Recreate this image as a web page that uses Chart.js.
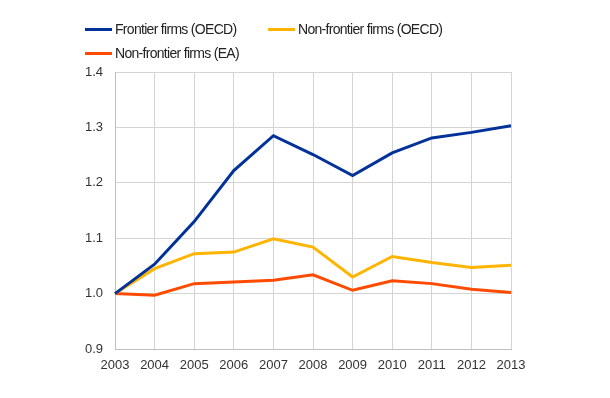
<!DOCTYPE html>
<html>
<head>
<meta charset="utf-8">
<script src="https://cdn.jsdelivr.net/npm/chart.js@4/dist/chart.umd.min.js"></script>
<style>
  body { margin: 0; background: #fff; }
  #wrap { position: relative; width: 610px; height: 398px; }
  #legend { position: absolute; left: 85px; top: 21px; width: 480px;
    font-family: "Liberation Sans", Arial, sans-serif; font-size: 14px; letter-spacing: -0.7px; color: #222; }
  .item { position: absolute; display: flex; align-items: center; white-space: nowrap; }
  .swatch { width: 27px; height: 3px; margin-right: 3px; }
</style>
</head>
<body>
<div id="wrap">
  <canvas id="myChart" width="610" height="398"></canvas>
  <div id="legend"></div>
</div>
<script>
var years = ["2003", "2004", "2005", "2006", "2007", "2008", "2009", "2010", "2011", "2012", "2013"];
var frontierOECD = [1.0, 1.053, 1.130, 1.222, 1.285, 1.251, 1.213, 1.254, 1.281, 1.291, 1.303];
var nonFrontierOECD = [1.0, 1.045, 1.072, 1.075, 1.099, 1.084, 1.030, 1.067, 1.056, 1.047, 1.051];
var nonFrontierEA = [1.0, 0.997, 1.018, 1.021, 1.024, 1.034, 1.006, 1.023, 1.018, 1.008, 1.002];
var seriesNames = ["Frontier firms (OECD)", "Non-frontier firms (OECD)", "Non-frontier firms (EA)"];
var seriesColors = ["#003299", "#ffb400", "#ff4b00"];

var allSeries = [frontierOECD, nonFrontierOECD, nonFrontierEA];
var datasets = allSeries.map(function (d, i) {
  return {
    label: seriesNames[i],
    data: d,
    borderColor: seriesColors[i],
    backgroundColor: seriesColors[i],
    borderWidth: 3,
    pointRadius: 0,
    tension: 0,
    order: i === 0 ? 0 : 1
  };
});

new Chart("myChart", {
  type: "line",
  data: { labels: years, datasets: datasets },
  options: {
    responsive: false,
    animation: false,
    layout: { padding: { top: 72, right: 99, left: 0, bottom: 0 } },
    plugins: { legend: { display: false }, tooltip: { enabled: false } },
    scales: {
      x: {
        grid: { color: "#d4d4d4", drawTicks: false },
        border: { color: "#bfbfbf" },
        ticks: { color: "#333", font: { family: "Liberation Sans", size: 13 }, padding: 9, maxRotation: 0 },
        afterFit: function (s) { s.height = 49; }
      },
      y: {
        min: 0.9, max: 1.4,
        grid: { color: "#d4d4d4", drawTicks: false },
        border: { color: "#bfbfbf" },
        ticks: {
          stepSize: 0.1, color: "#333", padding: 12,
          font: { family: "Liberation Sans", size: 13 },
          callback: function (v) { return v.toFixed(1); }
        },
        afterFit: function (s) { s.width = 115; }
      }
    }
  }
});

// legend
var pos = [[0, 0], [183, 0], [0, 24]];
var leg = document.getElementById("legend");
seriesNames.forEach(function (n, i) {
  var el = document.createElement("div");
  el.className = "item";
  el.style.left = pos[i][0] + "px";
  el.style.top = pos[i][1] + "px";
  el.innerHTML = '<span class="swatch" style="background:' + seriesColors[i] + '"></span>' + n;
  leg.appendChild(el);
});
</script>
</body>
</html>
